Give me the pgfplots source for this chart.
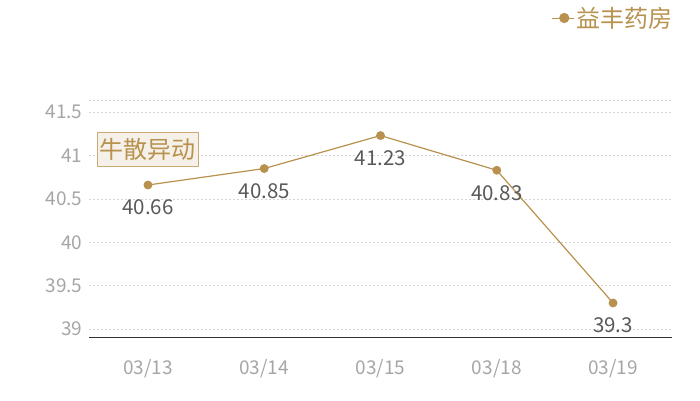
\documentclass[border=0pt]{standalone}
\usepackage{fontspec}
\setmainfont{Noto Sans CJK SC}
\usepackage{pgfplots}
\pgfplotsset{compat=1.18}
\definecolor{gold}{HTML}{B8914E}
\definecolor{ticktxt}{HTML}{A6A6A6}
\definecolor{valtxt}{HTML}{595959}
\definecolor{gridc}{HTML}{D4D4D4}
\definecolor{boxfill}{HTML}{F5F0E8}
\definecolor{boxdraw}{HTML}{C9AA78}
\begin{document}
\begin{tikzpicture}[x=1pt,y=1pt]
\path (0,0) rectangle (700,400);
\begin{axis}[
    at={(89pt,63pt)}, anchor=south west,
    scale only axis, width=583pt, height=237pt,
    xmin=-0.507, xmax=4.507,
    ymin=38.908, ymax=41.64,
    xtick={0,...,4},
    xticklabels={03/13,03/14,03/15,03/18,03/19},
    ytick={39,39.5,40,40.5,41,41.5,41.64},
    yticklabels={39,39.5,40,40.5,41,41.5,{}},
    ymajorgrids,
    major grid style={gridc, dash pattern=on 2pt off 2pt, line width=0.6pt},
    axis x line*=bottom,
    axis y line*=left,
    y axis line style={draw=none},
    x axis line style={draw=black!80, line width=0.8pt},
    major tick length=0pt,
    tick label style={font=\fontsize{19}{22}\selectfont, text=ticktxt},
    xticklabel style={yshift=-19pt},
    yticklabel style={xshift=-3pt},
    /pgf/number format/assume math mode=true,
    clip=false,
    legend style={at={(axis description cs:1.005,1.346)}, anchor=east,
        draw=none, fill=none, font=\fontsize{24}{28}\selectfont, text=gold,
        inner sep=0pt},
    legend image code/.code={
        \draw[gold, line width=0.9pt] (0pt,0pt) -- (22pt,0pt);
        \fill[gold] (12pt,0pt) circle (4.5pt);
    },
    nodes near coords,
    point meta=explicit symbolic,
    every node near coord/.append style={anchor=north, yshift=-11pt,
        font=\fontsize{20.5}{24}\selectfont, text=valtxt},
]
\addplot[gold, line width=1.2pt, mark=*, mark size=3.8pt,
    mark options={fill=gold, draw=gold}]
    coordinates {
        (0,40.66) [40.66]
        (1,40.85) [40.85]
        (2,41.23) [41.23]
        (3,40.83) [40.83]
        (4,39.3) [39.3]
    };
\addlegendentry{益丰药房}
\node[draw=boxdraw, fill=boxfill, line width=0.8pt, inner xsep=2.5pt, inner ysep=5.5pt,
      text=gold, font=\fontsize{24}{28}\selectfont]
    at (axis cs:0,41.07) {牛散异动};
\end{axis}
\end{tikzpicture}
\end{document}
